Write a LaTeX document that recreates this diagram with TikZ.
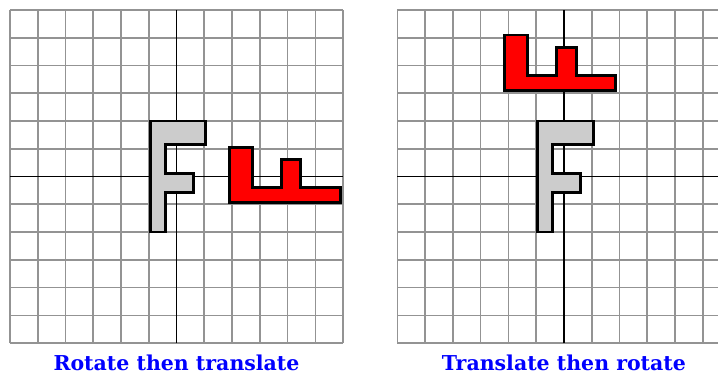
\documentclass[tikz,border=0pt]{standalone}
\usepackage{fontspec}
\newfontfamily\titlefont{DejaVu Serif}
\usetikzlibrary{positioning}
\definecolor{gridgray}{HTML}{939393}
\definecolor{lightgray}{HTML}{CCCCCC}
\newcommand{\Fpath}{(-0.95,-2) -- (-0.4,-2) -- (-0.4,-0.58) -- (0.6,-0.58) -- (0.6,0.12) -- (-0.4,0.12) -- (-0.4,1.17) -- (1.05,1.17) -- (1.05,2) -- (-0.95,2) -- cycle}

\begin{document}
\begin{tikzpicture}[
  gridline/.style={gridgray,line width=1.6pt},
  axisline/.style={black,line width=1.2pt},
  origF/.style={draw=black,fill=lightgray,line width=3pt,line join=miter},
  movedF/.style={draw=black,fill=red,line width=3pt,line join=miter},
  caption/.style={anchor=base,text=blue,font=\titlefont\bfseries\fontsize{21}{25}\selectfont}]
\useasboundingbox (-6.36,-7.225) rectangle (19.51,6.36);
\clip (-6.36,-7.225) rectangle (19.51,6.36);
% left: rotate, then translate
\draw[gridline] (-6,-6) grid (6,6);
\draw[axisline] (-6,0) -- (6,0);
\draw[axisline] (0,-6) -- (0,6);
\draw[origF] \Fpath;
\begin{scope}[shift={(3.9,0)},rotate=90]
  \draw[movedF] \Fpath;
\end{scope}
\node (leftcap) [caption] at (0,-7.0) {Rotate then translate};
% right: translate, then rotate
\begin{scope}[shift={(13.96,0)}]
  \draw[gridline] (-6,-6) grid (6,6);
  \draw[axisline] (-6,0) -- (6,0);
  \draw[axisline] (0,-6) -- (0,6);
  \draw[origF] \Fpath;
  \begin{scope}[rotate=90,shift={(4.05,0.14)}]
    \draw[movedF] \Fpath;
  \end{scope}
  \node (rightcap) [caption] at (0,-7.0) {Translate then rotate};
\end{scope}
\end{tikzpicture}
\end{document}
